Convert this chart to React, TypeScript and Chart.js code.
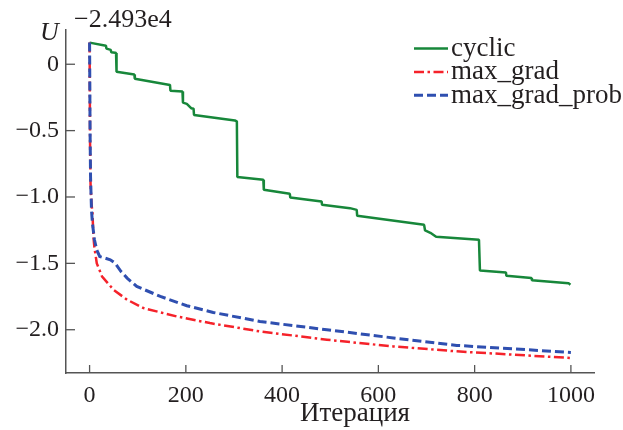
import React, { useEffect, useRef } from "react";
import { Chart, registerables } from "chart.js";

Chart.register(...registerables);

// ---- data ----
const cyclicIter = [0, 34, 35, 44, 45, 53, 55, 56, 93, 94, 167, 168, 193, 194, 202, 211, 216, 217, 302, 306, 307, 361, 362, 416, 417, 482, 483, 541, 555, 556, 695, 697, 708, 720, 809, 811, 865, 866, 918, 919, 995, 999];
const cyclicU = [0.163, 0.14, 0.118, 0.108, 0.09, 0.087, 0.085, -0.056, -0.078, -0.11, -0.156, -0.199, -0.206, -0.289, -0.299, -0.331, -0.335, -0.382, -0.424, -0.43, -0.85, -0.87, -0.946, -0.976, -1.004, -1.034, -1.059, -1.084, -1.097, -1.142, -1.21, -1.252, -1.27, -1.3, -1.322, -1.553, -1.568, -1.593, -1.611, -1.628, -1.649, -1.661];

const maxGradIter = [0, 1, 2, 4, 6, 8, 10, 15, 26, 50, 78, 112, 181, 250, 354, 493, 631, 763, 1000];
const maxGradU = [0.163, -0.6, -0.9, -1.05, -1.12, -1.3, -1.38, -1.5, -1.6, -1.7, -1.774, -1.837, -1.9, -1.95, -2.013, -2.075, -2.126, -2.163, -2.213];

const probIter = [0, 1, 2, 4, 6, 10, 15, 21, 43, 53, 65, 78, 98, 147, 202, 257, 354, 493, 631, 763, 1000];
const probU = [0.163, -0.5, -0.85, -1.1, -1.2, -1.32, -1.4, -1.448, -1.473, -1.498, -1.56, -1.611, -1.674, -1.749, -1.819, -1.87, -1.938, -2.0, -2.062, -2.118, -2.171];

const seriesLabels = ["cyclic", "max_grad", "max_grad_prob"];
const xTicks = [0, 200, 400, 600, 800, 1000];
const yTicks = [0, -0.5, -1.0, -1.5, -2.0];
const yTickLabels = ["0", "\u22120.5", "\u22121.0", "\u22121.5", "\u22122.0"];
const xTitle = "Итерация";
const yTitle = "U";
const offsetText = "\u22122.493e4";

const SERIF = '"Liberation Serif", "Times New Roman", serif';
const AXIS = "#555555";
const TEXT = "#231f20";

const toPoints = (xs: number[], ys: number[]) => xs.map((x, i) => ({ x, y: ys[i] }));

const decorPlugin = {
  id: "decor",
  afterDraw(chart: any) {
    const { ctx, chartArea } = chart;
    const xs = chart.scales.x;
    const ys = chart.scales.y;
    ctx.save();
    // inward ticks
    ctx.strokeStyle = AXIS;
    ctx.lineWidth = 1.3;
    ctx.setLineDash([]);
    for (const t of xs.ticks) {
      const px = xs.getPixelForValue(t.value);
      ctx.beginPath();
      ctx.moveTo(px, chartArea.bottom);
      ctx.lineTo(px, chartArea.bottom - 8);
      ctx.stroke();
    }
    for (const t of ys.ticks) {
      const py = ys.getPixelForValue(t.value);
      ctx.beginPath();
      ctx.moveTo(chartArea.left, py);
      ctx.lineTo(chartArea.left + 9, py);
      ctx.stroke();
    }
    // texts
    ctx.fillStyle = TEXT;
    ctx.textBaseline = "alphabetic";
    ctx.textAlign = "left";
    ctx.font = `26px ${SERIF}`;
    ctx.fillText(offsetText, 74, 27);
    ctx.font = `italic 26px ${SERIF}`;
    ctx.fillText(yTitle, 40, 40);
    ctx.font = `27px ${SERIF}`;
    ctx.textAlign = "center";
    ctx.fillText(xTitle, 355, 421);
    // legend
    ctx.textAlign = "left";
    chart.data.datasets.forEach((ds: any, i: number) => {
      const y = 48.5 + i * 23.4;
      ctx.strokeStyle = ds.borderColor;
      ctx.lineWidth = ds.borderWidth;
      ctx.setLineDash(ds.borderDash || []);
      ctx.beginPath();
      ctx.moveTo(414, y);
      ctx.lineTo(448, y);
      ctx.stroke();
      ctx.setLineDash([]);
      ctx.fillStyle = TEXT;
      ctx.fillText(ds.label, 451, y + 7.5);
    });
    ctx.restore();
  },
};

export default function App() {
  const ref = useRef<HTMLCanvasElement | null>(null);
  useEffect(() => {
    if (!ref.current) return;
    const chart = new Chart(ref.current, {
      type: "line",
      data: {
        datasets: [
          {
            label: seriesLabels[0],
            data: toPoints(cyclicIter, cyclicU),
            borderColor: "#17873a",
            borderWidth: 2.5,
            borderDash: [],
            borderJoinStyle: "bevel",
            pointRadius: 0,
            tension: 0,
            order: 3,
          },
          {
            label: seriesLabels[1],
            data: toPoints(maxGradIter, maxGradU),
            borderColor: "#f5222a",
            borderWidth: 2.5,
            borderDash: [10, 3.5, 2.5, 3.5],
            pointRadius: 0,
            tension: 0,
            order: 2,
          },
          {
            label: seriesLabels[2],
            data: toPoints(probIter, probU),
            borderColor: "#2f4fb0",
            borderWidth: 3,
            borderDash: [9, 4],
            pointRadius: 0,
            tension: 0,
            order: 1,
          },
        ],
      },
      options: {
        responsive: false,
        animation: false,
        devicePixelRatio: 1,
        layout: { padding: { top: 30, right: 29, left: 0, bottom: 0 } },
        plugins: { legend: { display: false }, tooltip: { enabled: false } },
        scales: {
          x: {
            type: "linear",
            min: -49,
            max: 1048,
            afterFit: (s: any) => { s.height = 57; },
            afterBuildTicks: (s: any) => { s.ticks = xTicks.map((v) => ({ value: v })); },
            grid: { display: false, drawTicks: false },
            border: { display: true, color: AXIS, width: 1.5 },
            ticks: {
              padding: 8,
              color: TEXT,
              font: { family: SERIF, size: 24 },
              maxRotation: 0,
              callback: (v: any) => String(v),
            },
          },
          y: {
            type: "linear",
            min: -2.326,
            max: 0.258,
            afterFit: (s: any) => { s.width = 66; },
            afterBuildTicks: (s: any) => { s.ticks = yTicks.map((v) => ({ value: v })); },
            grid: { display: false, drawTicks: false },
            border: { display: true, color: AXIS, width: 1.5 },
            ticks: {
              padding: 7,
              color: TEXT,
              font: { family: SERIF, size: 24 },
              callback: (v: any) => {
                const i = yTicks.findIndex((t) => Math.abs(t - v) < 1e-9);
                return i >= 0 ? yTickLabels[i] : "";
              },
            },
          },
        },
      },
      plugins: [decorPlugin],
    });
    return () => chart.destroy();
  }, []);
  return (
    <div style={{ position: "fixed", left: 0, top: 0, width: 623, height: 430, background: "#fff" }}>
      <canvas ref={ref} width={623} height={430} style={{ display: "block" }} />
    </div>
  );
}
